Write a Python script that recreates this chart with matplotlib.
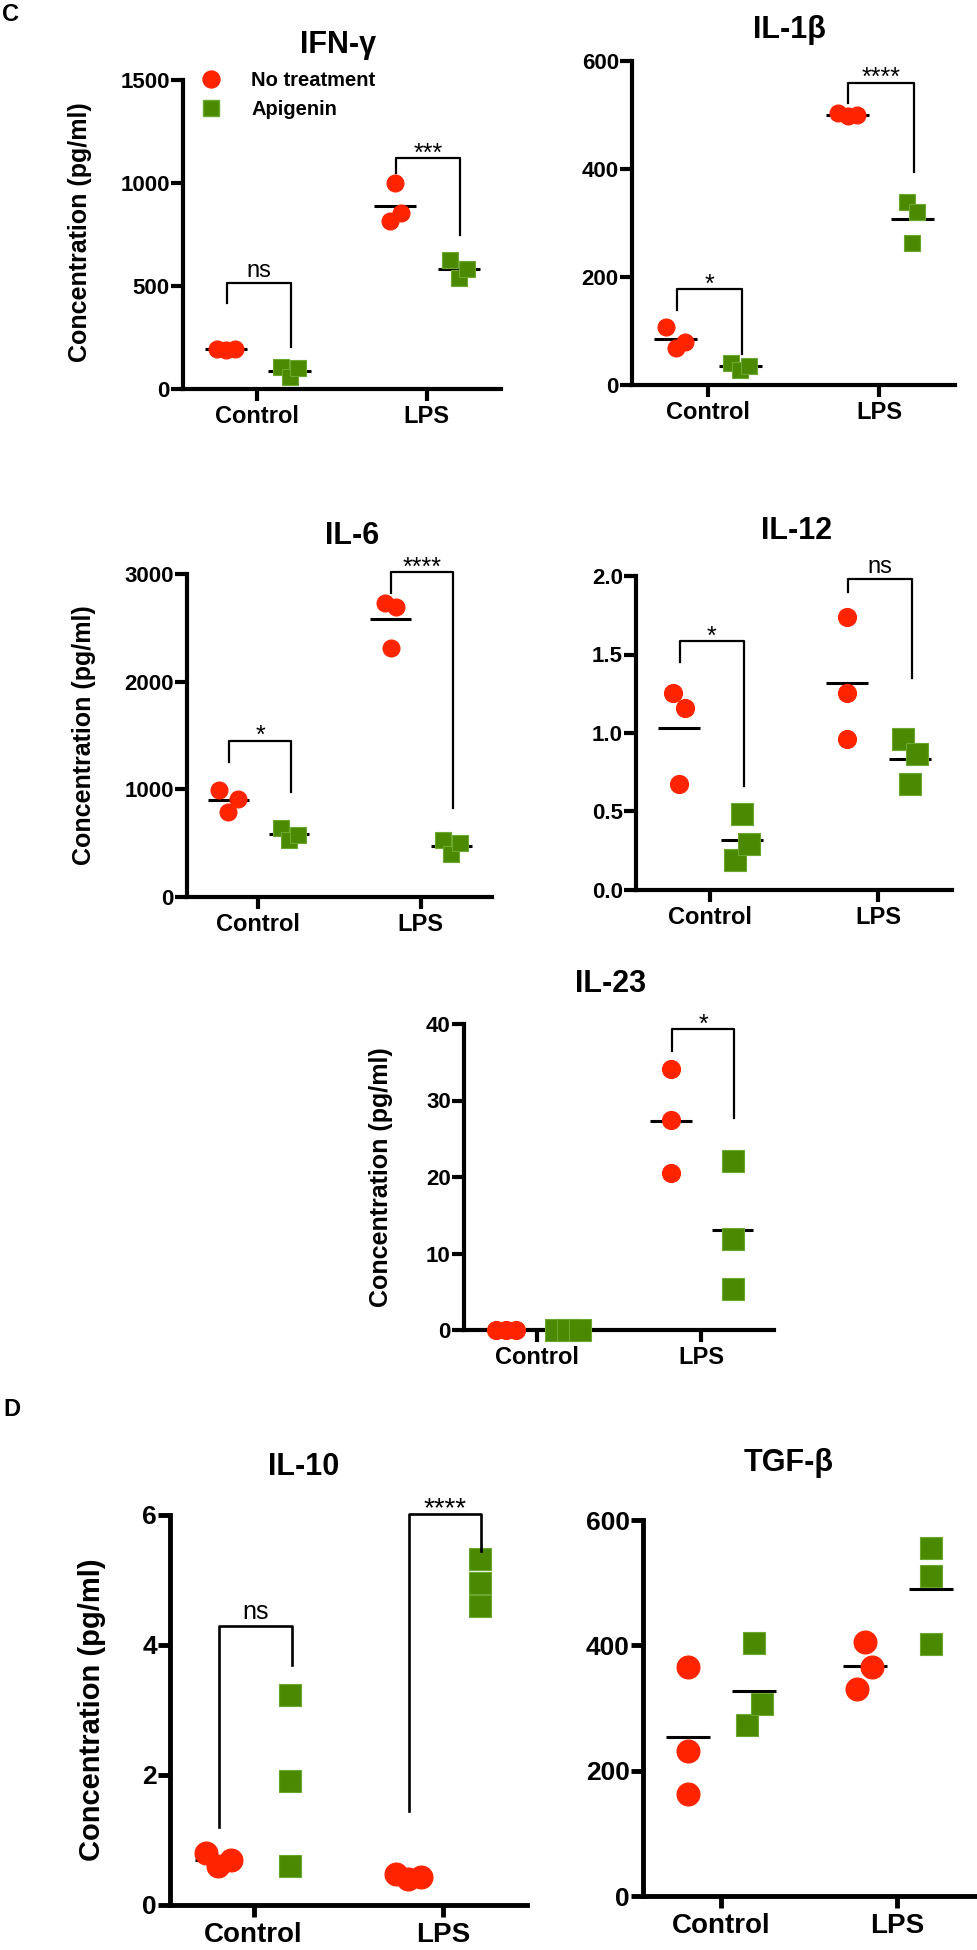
import matplotlib
matplotlib.use('Agg')
import matplotlib.pyplot as plt
from matplotlib.lines import Line2D
import numpy as np

plt.rcParams['font.family'] = ['Liberation Sans', 'DejaVu Sans']
plt.rcParams['font.weight'] = 'bold'

RED = '#ff2400'
GREEN = '#4b8a00'
GREEN_EDGE = '#6aa830'

groups = ['Control', 'LPS']
series = ['No treatment', 'Apigenin']

# values, (control, LPS) x (no treatment, apigenin)
ifn_ctrl_nt = [196, 190, 194]
ifn_ctrl_api = [105, 60, 100]
ifn_lps_nt = [1000, 816, 854]
ifn_lps_api = [626, 539, 582]

il1b_ctrl_nt = [108, 68, 80]
il1b_ctrl_api = [40, 28, 35]
il1b_lps_nt = [503, 498, 500]
il1b_lps_api = [339, 321, 263]

il6_ctrl_nt = [993, 786, 910]
il6_ctrl_api = [640, 530, 575]
il6_lps_nt = [2733, 2696, 2315]
il6_lps_api = [530, 400, 500]

il12_ctrl_nt = [1.254, 1.161, 0.674]
il12_ctrl_api = [0.481, 0.191, 0.290]
il12_lps_nt = [1.737, 1.254, 0.964]
il12_lps_api = [0.964, 0.869, 0.678]

il23_ctrl_nt = [0, 0, 0]
il23_ctrl_api = [0, 0, 0]
il23_lps_nt = [34.1, 27.5, 20.5]
il23_lps_api = [22.1, 11.9, 5.4]

il10_ctrl_nt = [0.80, 0.60, 0.70]
il10_ctrl_api = [3.23, 1.91, 0.60]
il10_lps_nt = [0.47, 0.40, 0.43]
il10_lps_api = [5.32, 4.95, 4.60]

tgfb_ctrl_nt = [366, 231, 163]
tgfb_ctrl_api = [403, 273, 306]
tgfb_lps_nt = [406, 331, 365]
tgfb_lps_api = [555, 511, 402]

# significance brackets: (group, bar level, left end, right end, label)
ifn_sig = [(0, 515, 417, 204, 'ns'), (1, 1121, 1048, 748, '***')]
il1b_sig = [(0, 178, 139, 57, '*'), (1, 560, 522, 395, '****')]
il6_sig = [(0, 1451, 1256, 975, '*'), (1, 3015, 2822, 826, '****')]
il12_sig = [(0, 1.585, 1.45, 0.663, '*'), (1, 1.98, 1.895, 1.35, 'ns')]
il23_sig = [(1, 39.3, 36.5, 27.7, '*')]
il10_sig = [(0, 4.30, 1.195, 3.70, 'ns'), (1, 6.02, 1.45, 5.45, '****')]
tgfb_sig = []

W, H = 978, 1950
fig = plt.figure(figsize=(W / 100, H / 100), dpi=100)


def fx(x):
    return x / W


def fy(y):
    return 1 - y / H


def swarm(ax, vals, d_px):
    # spread points that would overlap, centred on the group position
    vals = np.asarray(vals, float)
    ypx = ax.transData.transform(np.column_stack([np.zeros(len(vals)), vals]))[:, 1]
    order = np.argsort(ypx)
    clusters, cur = [], [order[0]]
    for i in order[1:]:
        if abs(ypx[i] - ypx[cur[-1]]) < 0.95 * d_px:
            cur.append(i)
        else:
            clusters.append(cur)
            cur = [i]
    clusters.append(cur)
    off = np.zeros(len(vals))
    for c in clusters:
        c = sorted(c)
        n = len(c)
        step = 0.65 if n == 2 else 0.55
        for k, i in enumerate(c):
            off[i] = (k - (n - 1) / 2) * step * d_px
    return off


def panel(box, title, title_xy, data, yticks, sig, big=False, ms=(12.2, 11.5),
          ylabel_xy=None, fmt=None, api_mean=True):
    left, top, right, bottom = box
    ax = fig.add_axes([fx(left), fy(bottom), fx(right - left), (bottom - top) / H])
    ax.set_xlim(-0.44, 1.44)
    ax.set_ylim(0, yticks[-1])
    lw = 3.5 if big else 3.0
    for s in ['top', 'right']:
        ax.spines[s].set_visible(False)
    for s in ['left', 'bottom']:
        ax.spines[s].set_linewidth(lw)
        ax.spines[s].set_capstyle('projecting')
    ax.set_xticks([0, 1])
    ax.set_xticklabels(groups)
    ax.set_yticks(yticks)
    if fmt:
        ax.set_yticklabels([fmt.format(t) for t in yticks])
    ax.tick_params(axis='both', width=lw, length=8.5, direction='out')
    ax.tick_params(axis='y', labelsize=19 if big else 16, pad=1)
    ax.tick_params(axis='x', labelsize=20 if big else 17, pad=4 if big else 3)

    unit = ax.bbox.width / 1.88
    for g, (nt, api) in enumerate(data):
        for vals, dx, col, mk, size, ec, show in [
                (nt, -0.185, RED, 'o', ms[0], RED, True),
                (api, 0.19, GREEN, 's', ms[1], GREEN_EDGE, api_mean)]:
            off = swarm(ax, vals, size * 100 / 72) / unit
            x = g + dx + off
            ax.plot(x, vals, ls='none', marker=mk, ms=size, color=col, mec=ec,
                    mew=0.8, zorder=3, clip_on=False)
            if show:
                m = np.mean(vals)
                ax.plot([g + dx - 0.125, g + dx + 0.125], [m, m], color='black',
                        lw=2.2, zorder=2, solid_capstyle='butt')

    for g, lev, yl, yr, lab in sig:
        xl, xr = g - 0.18, g + 0.2
        ax.plot([xl, xl, xr, xr], [yl, lev, lev, yr], color='black',
                lw=1.9 if big else 1.6, clip_on=False, zorder=4)
        if lab == 'ns':
            dy, fs = 4.5, (18 if big else 17)
        else:
            dy, fs = -1.8, (20 if big else 18)
        ax.annotate(lab, xy=((xl + xr) / 2, lev), xytext=(0, dy),
                    textcoords='offset points', ha='center', va='baseline',
                    fontsize=fs, fontweight='normal', annotation_clip=False)

    fig.text(fx(title_xy[0]), fy(title_xy[1]), title, ha='center', va='baseline',
             fontsize=22, fontweight='bold')
    if ylabel_xy:
        fig.text(fx(ylabel_xy[0]), fy(ylabel_xy[1]), 'Concentration (pg/ml)',
                 rotation=90, ha='center', va='center',
                 fontsize=21 if big else 18, fontweight='bold')
    return ax


ax_ifn = panel((183, 80, 501, 389), 'IFN-γ', (338, 53),
               [(ifn_ctrl_nt, ifn_ctrl_api), (ifn_lps_nt, ifn_lps_api)],
               [0, 500, 1000, 1500], ifn_sig, ylabel_xy=(80, 232))
panel((632, 61, 955, 385), 'IL-1β', (789, 38),
      [(il1b_ctrl_nt, il1b_ctrl_api), (il1b_lps_nt, il1b_lps_api)],
      [0, 200, 400, 600], il1b_sig)
panel((187, 574, 492, 897), 'IL-6', (352, 544),
      [(il6_ctrl_nt, il6_ctrl_api), (il6_lps_nt, il6_lps_api)],
      [0, 1000, 2000, 3000], il6_sig, ms=(12.2, 11), ylabel_xy=(84, 735))
panel((636, 576, 952, 890), 'IL-12', (797, 539),
      [(il12_ctrl_nt, il12_ctrl_api), (il12_lps_nt, il12_lps_api)],
      [0, 0.5, 1.0, 1.5, 2.0], il12_sig, ms=(13, 15.5), fmt='{:.1f}')
panel((464, 1024, 774, 1330), 'IL-23', (611, 992),
      [(il23_ctrl_nt, il23_ctrl_api), (il23_lps_nt, il23_lps_api)],
      [0, 10, 20, 30, 40], il23_sig, ms=(13, 15.5), ylabel_xy=(381, 1177))
panel((170, 1515, 527, 1905), 'IL-10', (304, 1475),
      [(il10_ctrl_nt, il10_ctrl_api), (il10_lps_nt, il10_lps_api)],
      [0, 2, 4, 6], il10_sig, big=True, ms=(16.5, 16.5), ylabel_xy=(92, 1710),
      api_mean=False)
panel((643, 1520, 975, 1896), 'TGF-β', (789, 1471),
      [(tgfb_ctrl_nt, tgfb_ctrl_api), (tgfb_lps_nt, tgfb_lps_api)],
      [0, 200, 400, 600], tgfb_sig, big=True, ms=(16.5, 16.5))

handles = [Line2D([], [], ls='none', marker='o', ms=12.2, color=RED),
           Line2D([], [], ls='none', marker='s', ms=11.5, color=GREEN, mec=GREEN_EDGE)]
ax_ifn.legend(handles, series, loc='upper left', bbox_to_anchor=(0.057, 1.03),
              frameon=False, fontsize=14.5, handlelength=1.0, handletextpad=1.5,
              borderpad=0, borderaxespad=0, labelspacing=0.5)

fig.text(fx(2), fy(21), 'C', fontsize=17, fontweight='bold', ha='left', va='baseline')
fig.text(fx(3), fy(1416), 'D', fontsize=17, fontweight='bold', ha='left', va='baseline')

fig.savefig('out.png', dpi=100)
